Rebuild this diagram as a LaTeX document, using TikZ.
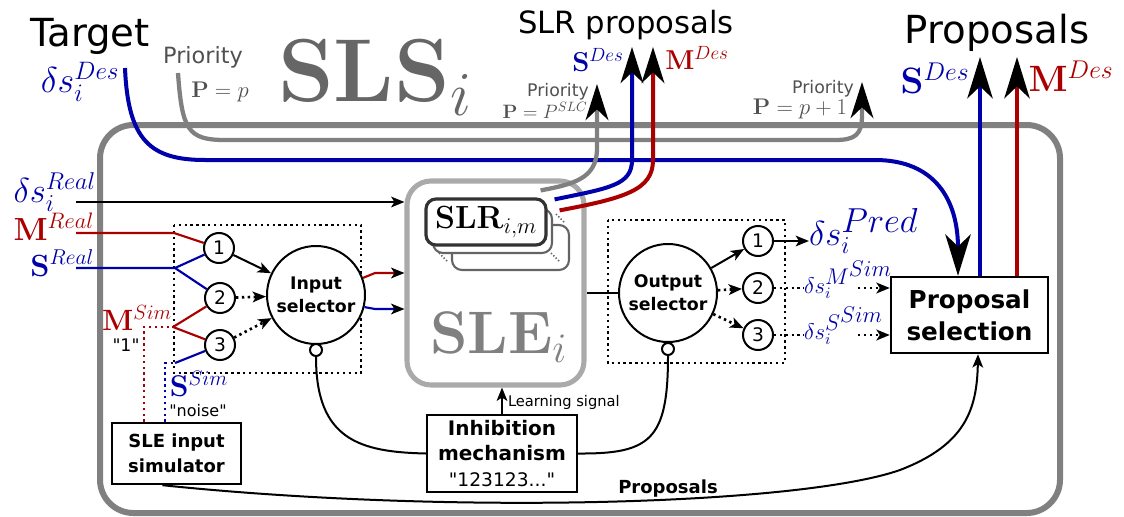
\RequirePackage{fix-cm}
\documentclass[tikz,border=0pt]{standalone}
\usepackage[no-math]{fontspec}
\newfontfamily\dv{DejaVu Sans}
\usetikzlibrary{arrows.meta,calc}
\definecolor{myblue}{RGB}{0,0,170}
\definecolor{myred}{RGB}{170,0,0}
\definecolor{lgray}{RGB}{128,128,128}
\definecolor{dgray}{RGB}{102,102,102}
\definecolor{tgray}{RGB}{80,80,80}
\definecolor{sgray}{RGB}{170,170,170}
\definecolor{slrgray}{RGB}{51,51,51}
\definecolor{bgray}{RGB}{100,100,100}
\newcommand{\myfs}[1]{\fontsize{#1}{#1}\selectfont}
\tikzset{
  tipbig/.tip={Stealth[length=31pt,width=19pt,inset=9pt,color=black]},
  tipmid/.tip={Stealth[length=27pt,width=17pt,inset=8pt,color=black]},
  tipsmall/.tip={Stealth[length=10pt,width=8pt,inset=2.5pt,color=black]},
  lbl/.style={inner sep=0pt,outer sep=0pt},
  circnum/.style={circle,draw,line width=1.5pt,minimum size=22.5pt,inner sep=0pt,fill=white,font=\dv\myfs{14}},
  selcirc/.style={circle,draw,line width=1.5pt,minimum size=73.5pt,inner sep=0pt,align=center,fill=white,font={\dv\bfseries\fontsize{13}{17}\selectfont}},
  inhcirc/.style={circle,draw,line width=1.5pt,minimum size=9pt,inner sep=0pt,fill=white},
  boxnode/.style={draw,line width=1.8pt,align=center,inner sep=0pt,fill=white},
  blk/.style={line width=1.5pt},
  blkarrow/.style={line width=1.5pt,-tipsmall},
  mydots/.style={line width=2pt,dash pattern=on 1.8pt off 2.6pt},
  thinc/.style={line width=1.6pt},
  thickc/.style={line width=3pt},
  grayline/.style={draw=lgray,line width=3.2pt},
  slrbox/.style={draw=bgray,line width=1.6pt,rounded corners=7.5pt,fill=white,inner sep=0pt},
}
\begin{document}
\begin{tikzpicture}[x=0.75pt,y=-0.75pt]
\useasboundingbox (0,0) rectangle (1124,517);

% outer SLS box
\draw[draw=lgray,line width=4.5pt,rounded corners=25pt] (100,125) rectangle (1060,513);

% title texts
\node[lbl,font=\dv\myfs{29}] (target) at (90,36) {Target};
\node[lbl,text=myblue,font=\myfs{27}] (dsdes) at (80,82) {$\delta s_i^{Des}$};
\node[lbl,text=tgray,font=\dv\myfs{16.8}] (prio1) at (203,57) {Priority};
\node[lbl,text=tgray,font=\myfs{17}] (pp1) at (220,92) {$\mathbf{P}=p$};
\node[lbl,anchor=base west,text=dgray,font=\myfs{67}] (sls) at (278,102) {$\mathbf{SLS}_i$};
\node[lbl,font=\dv\myfs{23}] (slrprop) at (626,25) {SLR proposals};
\node[lbl,text=myblue,font=\myfs{20.5}] (sdes1) at (598,60) {$\mathbf{S}^{Des}$};
\node[lbl,text=myred,font=\myfs{20.5}] (mdes1) at (697,58) {$\mathbf{M}^{Des}$};
\node[lbl,text=tgray,font=\dv\myfs{13}] (prio2) at (558,92) {Priority};
\node[lbl,text=tgray,font=\myfs{14.5}] (pp2) at (545,110) {$\mathbf{P}=P^{SLC}$};
\node[lbl,text=tgray,font=\dv\myfs{13}] (prio3) at (823,89) {Priority};
\node[lbl,text=tgray,font=\myfs{17}] (pp3) at (800,109) {$\mathbf{P}=p+1$};
\node[lbl,font=\dv\myfs{29}] (proposals) at (997,33) {Proposals};
\node[lbl,text=myblue,font=\myfs{27.5}] (sdes2) at (935,78) {$\mathbf{S}^{Des}$};
\node[lbl,text=myred,font=\myfs{27.5}] (mdes2) at (1071,76) {$\mathbf{M}^{Des}$};

% main blocks
\node[draw=sgray,line width=3.8pt,rounded corners=18pt,minimum width=132.75pt,minimum height=153pt,inner sep=0pt] (sle) at (495.5,283) {};
\node[lbl,anchor=base west,text=lgray,font=\myfs{45}] (sletext) at (430,353) {$\mathbf{SLE}_i$};
\node[slrbox,minimum width=87.75pt,minimum height=33.75pt] (slr3) at (510.5,247.5) {};
\node[slrbox,minimum width=89.25pt,minimum height=33pt] (slr2) at (492.5,231) {};
\node[slrbox,draw=slrgray,line width=2.4pt,minimum width=90pt,minimum height=34.5pt,font=\myfs{24}] (slr) at (486,222) {$\mathbf{SLR}_{i,m}$};
\draw[bgray,line width=1.2pt,dash pattern=on 1pt off 1.5pt] (439,253) -- (447,261);
\draw[bgray,line width=1.2pt,dash pattern=on 1pt off 1.5pt] (551,253) -- (559,261);
\draw[bgray,line width=1.2pt,dash pattern=on 1pt off 1.5pt] (556,214) -- (564,222);

\node[boxnode,minimum width=117.75pt,minimum height=57pt,font={\dv\bfseries\fontsize{18.5}{24}\selectfont}] (propsel) at (969.5,315) {Proposal\\selection};
\node[boxnode,minimum width=96.75pt,minimum height=45.75pt,font={\dv\bfseries\fontsize{13.5}{19}\selectfont}] (simbox) at (176.5,453.5) {SLE input\\simulator};
\node[boxnode,minimum width=112.5pt,minimum height=57.75pt,font={\dv\fontsize{14}{19}\selectfont}] (inhib) at (502,453.5) {\bfseries\myfs{15}Inhibition\\\bfseries\myfs{15}mechanism\\"123123..."};

% dotted selector frames
\draw[mydots] (174,225) rectangle (361,373);
\draw[mydots] (608,220) rectangle (785,363);

% priority / target lines at top
\coordinate (pstart) at (178,73);
\coordinate (ptip) at (862,82);
\draw[grayline,-tipmid] (pstart) .. controls (182,130) and (188,140) .. (225,140) -- (835,140) .. controls (855,140) and (862,135) .. (862,115) -- (ptip);
\coordinate (tstart) at (125,68);
\draw[myblue,thickc,-tipbig] (tstart) .. controls (128,140) and (150,160) .. (205,160) -- (875,160) .. controls (935,160) and (958,200) .. ($(propsel.north)+(-11.5,0)$);
\coordinate (sdtip) at (980,57);
\coordinate (mdtip) at (1017,57);
\draw[myblue,thickc,-tipbig] ($(propsel.north)+(10.5,0)$) -- (sdtip);
\draw[myred,thickc,-tipbig] ($(propsel.north)+(47.5,0)$) -- (mdtip);

% SLR proposals
\coordinate (gtip) at (597,84);
\coordinate (btip) at (632,47);
\coordinate (rtip) at (653,47);
\draw[grayline,-tipmid] ($(slr.north east)+(-7,-7)$) .. controls (575,184) and (596,178) .. (597,150) -- (gtip);
\draw[myblue,thickc,-tipmid] ($(slr.north east)+(7,2)$) .. controls (610,188) and (632,185) .. (632,160) -- (btip);
\draw[myred,thickc,-tipmid] ($(slr.north east)+(12,13)$) .. controls (625,198) and (653,190) .. (653,160) -- (rtip);

% inputs
\node[lbl,anchor=east,text=myblue,font=\myfs{26}] (dsreal) at (96,192) {$\delta s_i^{Real}$};
\node[lbl,anchor=east,text=myred,font=\myfs{24}] (mreal) at (94,227) {$\mathbf{M}^{Real}$};
\node[lbl,anchor=east,text=myblue,font=\myfs{23}] (sreal) at (94,263) {$\mathbf{S}^{Real}$};
\coordinate (ar1) at (76,202);
\draw[blkarrow] (ar1) -- (ar1 -| sle.west);

\node[circnum] (n1) at (219,248) {1};
\node[circnum] (n2) at (220,298) {2};
\node[circnum] (n3) at (220,345) {3};
\node[selcirc] (insel) at (316,295) {Input\\selector};
\node[inhcirc] (ininh) at (316,350) {};

\coordinate (mr) at (76,233);
\coordinate (mrb) at (174,233);
\coordinate (sr) at (76,268);
\coordinate (srb) at (175,268);
\draw[myred,thinc] (mr) -- (mrb) -- (n1);
\draw[myblue,thinc] (sr) -- (srb) -- (n1);
\draw[myblue,thinc] (srb) -- (n2);

\node[lbl,text=myred,font=\myfs{22}] (msim) at (137,318) {$\mathbf{M}^{Sim}$};
\node[lbl,font=\dv\myfs{13}] (one) at (126,345) {"1"};
\node[lbl,text=myblue,font=\myfs{22.5}] (ssim) at (199,384) {$\mathbf{S}^{Sim}$};
\node[lbl,font=\dv\myfs{12}] (noise) at (198,411) {"noise"};

\coordinate (msc) at (144,327);
\coordinate (msb) at (173,327);
\coordinate (ssc) at (165,363);
\coordinate (ssb) at (175,363);
\draw[myred,mydots] (msc |- simbox.north) -- (msc) -- (msb);
\draw[myred,thinc] (msb) -- (n2);
\draw[myred,thinc] (msb) -- (n3);
\draw[myblue,mydots] (ssc |- simbox.north) -- (ssc) -- (ssb);
\draw[myblue,thinc] (ssb) -- (n3);

\draw[blkarrow] (n1) -- (insel);
\draw[mydots,-tipsmall] (n2) -- (insel);
\draw[mydots,-tipsmall] (n3) -- (insel);

\coordinate (rb1) at (375,273);
\coordinate (bb1) at (375,309);
\draw[myred,thinc,-tipsmall] (insel.20) -- (rb1) -- (rb1 -| sle.west);
\draw[myblue,thinc,-tipsmall] (insel.-14) -- (bb1) -- (bb1 -| sle.west);

% outputs
\node[selcirc] (outsel) at (668,293) {Output\\selector};
\node[inhcirc] (outinh) at (668,349) {};
\node[circnum] (o1) at (758,241) {1};
\node[circnum] (o2) at (758,288) {2};
\node[circnum] (o3) at (758,335) {3};
\draw[blk] (sle.east |- outsel) -- (outsel);
\draw[blkarrow] (outsel) -- (o1);
\draw[mydots,-tipsmall] (outsel) -- (o2);
\draw[mydots,-tipsmall] (outsel) -- (o3);

\node[lbl,anchor=base west,text=myblue,font=\myfs{26}] (dspred) at (809,245) {$\delta s_i^{\textstyle Pred}$};
\draw[blkarrow] (o1) -- (o1 -| dspred.west);
\node[lbl,anchor=base west,text=myblue,font=\myfs{17}] (dsms) at (804,293) {$\delta s_i^{\textstyle M^{\textstyle Sim}}$};
\node[lbl,anchor=base west,text=myblue,font=\myfs{17}] (dsss) at (804,339) {$\delta s_i^{\textstyle S^{\textstyle Sim}}$};
\coordinate (ms2) at (858,288);
\coordinate (ss2) at (858,335);
\draw[mydots] (o2) -- (o2 -| dsms.west);
\draw[mydots] (o3) -- (o3 -| dsss.west);
\draw[mydots,-tipsmall] (ms2) -- (ms2 -| propsel.west);
\draw[mydots,-tipsmall] (ss2) -- (ss2 -| propsel.west);

% inhibition and learning
\draw[blk] (ininh.south) .. controls (316,440) and (360,452) .. (inhib.west);
\draw[blk] (outinh.south) .. controls (668,440) and (650,454) .. (inhib.east);
\draw[blkarrow] (inhib.north) -- (inhib.north |- sle.south);
\node[lbl,anchor=west,font=\dv\myfs{11}] (learn) at (508,402) {Learning signal};

% proposals from simulator
\draw[blkarrow] ($(simbox.south)+(-14,0)$) .. controls (450,515) and (800,505) .. (900,470) .. controls (965,445) and (977,410) .. ($(propsel.south)+(8.5,0)$);
\node[lbl,font=\dv\bfseries\myfs{13.5}] (propbot) at (668,489) {Proposals};

\end{tikzpicture}
\end{document}
